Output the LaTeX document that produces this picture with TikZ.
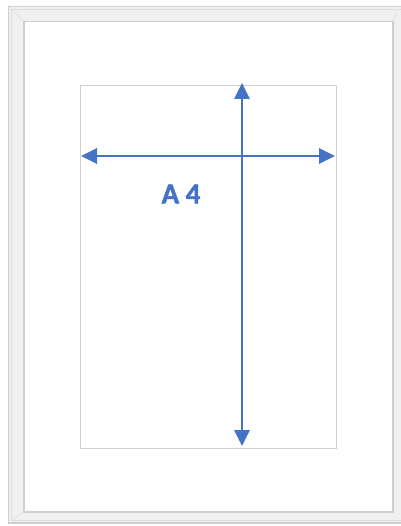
\documentclass[tikz,border=0pt]{standalone}
\usepackage{fontspec}
\setmainfont{Carlito}
\newfontfamily\lblfont{Carlito Bold}[FakeBold=1.5]
\usetikzlibrary{arrows.meta}
\definecolor{ablue}{HTML}{4472C4}
\definecolor{fr1}{HTML}{CFCFCF}
\definecolor{fr2}{HTML}{F0F0F0}
\definecolor{fr3}{HTML}{DDDDDD}
\definecolor{paperline}{HTML}{D0D0D0}
\tikzset{
  dim/.style={draw=ablue, line width=2.7pt, {Triangle[length=16pt,width=15pt]}-{Triangle[length=16pt,width=15pt]}},
  lbl/.style={font=\lblfont\fontsize{29}{32}\selectfont, text=ablue, inner sep=0pt}
}
\begin{document}
\begin{tikzpicture}[x=1pt,y=-1pt]
\useasboundingbox (0,0) rectangle (400,526);
\fill[white] (0,0) rectangle (400,526);
% frame
\draw[fr1, fill=fr2, line width=1.2pt] (8.5,6.5) rectangle (410,523);
\draw[fr3, line width=0.6pt] (11,9.5) rectangle (410,520);
\draw[fr3, line width=0.5pt] (11,9.5) -- (24,21.5);
\draw[fr3, line width=0.5pt] (11,520) -- (24,512);
\draw[fr3, line width=0.5pt] (398,10) -- (393,21.5);
\draw[fr1, fill=white, line width=1.2pt] (24,21.5) rectangle (393,512);
% paper
\draw[paperline, line width=1pt] (80.5,86) rectangle (336,448);
\coordinate (vt) at (242,83);
\coordinate (vb) at (242,446);
\coordinate (hl) at (81,156);
\coordinate (hr) at (335,156);
\draw[dim] (vt) -- (vb);
\draw[dim] (hl) -- (hr);
\node[lbl] (a4) at (181,194) {A 4};
\end{tikzpicture}
\end{document}
